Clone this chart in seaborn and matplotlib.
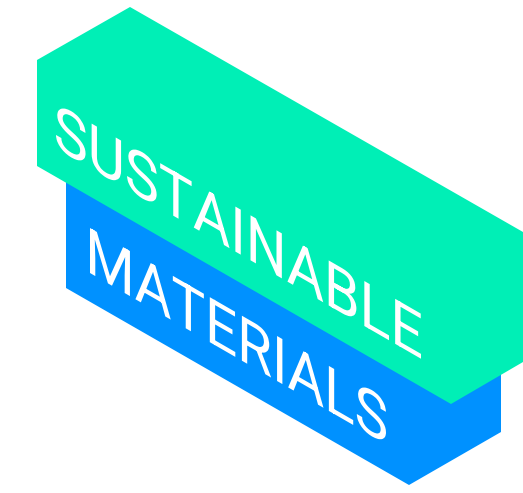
import numpy as np
import matplotlib
matplotlib.use("Agg")
import matplotlib.pyplot as plt
from matplotlib.textpath import TextPath
from matplotlib.patches import PathPatch, Polygon
from matplotlib.font_manager import FontProperties
from matplotlib.transforms import Affine2D
import seaborn as sns

# block outlines (pixel coords, y down)
green_x = [130, 523, 523, 451, 37, 37]
green_y = [7, 232, 362, 404, 166, 60]
blue_x = [66, 501, 501, 409, 66]
blue_y = [120, 320, 432, 485, 288]

labels = ["SUSTAINABLE", "MATERIALS"]
label_left = [56, 90]        # left edge of first letter
label_base = [148, 273]      # baseline y at left edge
label_width = [365, 296]
cap_height = 45

green = "#00EFB6"
blue = "#0091FF"

sns.set_style("white")

fig = plt.figure(figsize=(5.23, 4.93), dpi=100)
ax = fig.add_axes([0, 0, 1, 1])
ax.set_xlim(0, 523)
ax.set_ylim(493, 0)
ax.axis("off")

ax.add_patch(Polygon(np.column_stack([blue_x, blue_y]), closed=True,
                     facecolor=blue, edgecolor="none"))
ax.add_patch(Polygon(np.column_stack([green_x, green_y]), closed=True,
                     facecolor=green, edgecolor="none"))

fp = FontProperties(family="Roboto")
cap_ref = TextPath((0, 0), "H", size=100, prop=fp).get_extents().height

for txt, x0, y0, w in zip(labels, label_left, label_base, label_width):
    tp = TextPath((0, 0), txt, size=100, prop=fp)
    ext = tp.get_extents()
    sx = w / ext.width
    sy = cap_height / cap_ref
    tr = (Affine2D().translate(-ext.x0, 0).scale(sx, -sy)
          .skew_deg(0, 30).translate(x0, y0))
    ax.add_patch(PathPatch(tr.transform_path(tp), facecolor="white",
                           edgecolor="none"))

fig.savefig("out.png", dpi=100)
